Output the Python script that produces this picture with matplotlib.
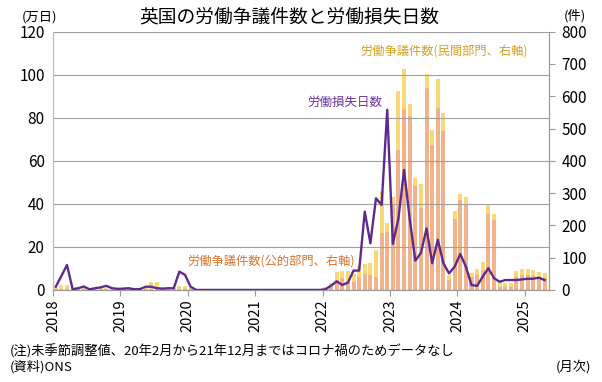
import numpy as np
import matplotlib.pyplot as plt

plt.rcParams['font.family'] = ['Noto Sans CJK JP', 'DejaVu Sans']

# monthly data, Jan 2018 - Apr 2025 (Feb 2020 - Dec 2021: no data)
years = ['2018', '2019', '2020', '2021', '2022', '2023', '2024', '2025']

days_lost = [1.5, 6.5, 11.6, 0.3, 0.8, 1.6, 0.3, 0.8, 1.2, 1.9, 0.8, 0.5,
             0.6, 0.8, 0.3, 0.4, 1.5, 1.5, 0.8, 0.6, 0.8, 0.8, 8.5, 7.0,
             1.5, 0, 0, 0, 0, 0, 0, 0, 0, 0, 0, 0,
             0, 0, 0, 0, 0, 0, 0, 0, 0, 0, 0, 0,
             0.3, 2.0, 4.0, 2.3, 3.4, 9.0, 9.0, 36.4, 21.7, 42.6, 39.5, 83.7,
             21.4, 33.3, 55.8, 33.0, 13.6, 17.2, 28.6, 12.4, 23.3, 12.4, 7.7, 10.8,
             16.7, 10.8, 2.3, 1.9, 6.2, 10.1, 5.5, 3.8, 4.6, 4.6, 4.6, 4.9,
             5.2, 5.2, 5.7, 4.6]

public = [2, 3, 3, 2, 2, 2, 1, 2, 2, 2, 1, 1,
          2, 2, 2, 1, 2, 4, 4, 2, 2, 2, 3, 3,
          2, 0, 0, 0, 0, 0, 0, 0, 0, 0, 0, 0,
          0, 0, 0, 0, 0, 0, 0, 0, 0, 0, 0, 0,
          3, 8, 31, 38, 20, 25, 41, 48, 45, 40, 175, 180,
          262, 434, 560, 540, 322, 253, 625, 450, 563, 491, 31, 219,
          279, 266, 41, 46, 62, 236, 217, 10, 10, 8, 41, 46,
          46, 43, 41, 36]

private = [3, 12, 12, 3, 6, 3, 4, 2, 4, 4, 2, 2,
           3, 3, 4, 2, 3, 20, 20, 3, 3, 3, 10, 10,
           3, 0, 0, 0, 0, 0, 0, 0, 0, 0, 0, 0,
           0, 0, 0, 0, 0, 0, 0, 0, 0, 0, 0, 0,
           5, 12, 26, 22, 40, 24, 33, 32, 37, 84, 130, 27,
           25, 181, 125, 35, 24, 75, 45, 46, 91, 56, 16, 26,
           18, 21, 11, 18, 26, 28, 19, 16, 13, 15, 19, 18,
           18, 19, 16, 16]

n = len(days_lost)
x = np.arange(n) + 0.5

fig = plt.figure(figsize=(6.02, 3.82), dpi=100)
ax = fig.add_axes([0.088, 0.241, 0.824, 0.676])
ax2 = ax.twinx()

# bars on right axis
ax2.bar(x, public, width=0.72, color='#F0B38C', zorder=2)
ax2.bar(x, private, width=0.72, bottom=public, color='#F9D878', zorder=2)
ax2.set_ylim(0, 800)
ax2.set_yticks(np.arange(0, 801, 100))
ax2.tick_params(axis='y', labelsize=11, length=4, color='#999999', pad=5)

# line on left axis, drawn above bars
ax.set_zorder(ax2.get_zorder() + 1)
ax.patch.set_visible(False)
ax.plot(x, days_lost, color='#5E2B8C', lw=1.7, zorder=3)
ax.set_ylim(0, 120)
ax.set_yticks(np.arange(0, 121, 20))
ax.yaxis.grid(True, color='#A0A0A0', lw=0.8)
ax.tick_params(axis='y', labelsize=11, length=0, pad=6)

ax.set_xlim(0, 88.3)
ax.set_xticks(np.arange(0, 85, 12))
ax.set_xticklabels(years, rotation=90, fontsize=10.5)
ax.tick_params(axis='x', length=4, color='#999999', pad=3)

for a in (ax, ax2):
    a.spines['top'].set_visible(False)
    a.spines['left'].set_color('#BBBBBB')
    a.spines['right'].set_color('#999999')
    a.spines['bottom'].set_color('#999999')

fig.text(0.48, 0.955, '英国の労働争議件数と労働損失日数', ha='center', va='center',
         fontsize=13.5)
fig.text(0.065, 0.955, '(万日)', ha='center', va='center', fontsize=9.5)
fig.text(0.955, 0.96, '(件)', ha='center', va='center', fontsize=9.5)

ax.text(0.958, 0.925, '労働争議件数(民間部門、右軸)', transform=ax.transAxes,
        ha='right', va='center', fontsize=8.8, color='#D4A020')
ax.text(0.513, 0.725, '労働損失日数', transform=ax.transAxes,
        ha='left', va='center', fontsize=9, color='#6A35A0')
ax.text(0.27, 0.11, '労働争議件数(公的部門、右軸)', transform=ax.transAxes,
        ha='left', va='center', fontsize=8.8, color='#D9742C')

fig.text(0.017, 0.08, '(注)未季節調整値、20年2月から21年12月まではコロナ禍のためデータなし',
         ha='left', va='center', fontsize=9.5)
fig.text(0.017, 0.039, '(資料)ONS', ha='left', va='center', fontsize=9.5)
fig.text(0.982, 0.039, '(月次)', ha='right', va='center', fontsize=9.5)

fig.savefig('out.png', dpi=100)
